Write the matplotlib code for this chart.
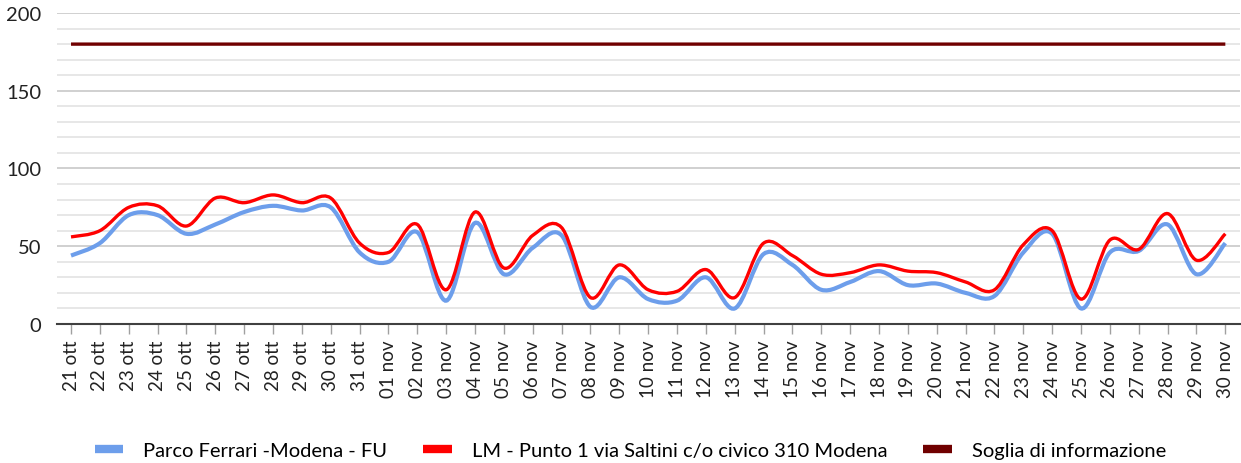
import matplotlib
matplotlib.use("Agg")
import matplotlib.pyplot as plt
from matplotlib.path import Path
from matplotlib.patches import PathPatch
from matplotlib.lines import Line2D

# date labels (21 ott - 30 nov)
giorni = ["21 ott", "22 ott", "23 ott", "24 ott", "25 ott", "26 ott", "27 ott",
          "28 ott", "29 ott", "30 ott", "31 ott", "01 nov", "02 nov", "03 nov",
          "04 nov", "05 nov", "06 nov", "07 nov", "08 nov", "09 nov", "10 nov",
          "11 nov", "12 nov", "13 nov", "14 nov", "15 nov", "16 nov", "17 nov",
          "18 nov", "19 nov", "20 nov", "21 nov", "22 nov", "23 nov", "24 nov",
          "25 nov", "26 nov", "27 nov", "28 nov", "29 nov", "30 nov"]

# Parco Ferrari - Modena - FU
parco_ferrari = [44, 52, 70, 70, 58, 64, 72, 76, 73, 75, 46, 40, 59, 15,
                 65, 32, 49, 57, 11, 30, 16, 15, 30, 10, 45, 38, 22, 27,
                 34, 25, 26, 20, 18, 46, 58, 10, 46, 47, 64, 32, 52]

# LM - Punto 1 via Saltini
punto_saltini = [56, 60, 75, 76, 63, 81, 78, 83, 78, 81, 52, 46, 64, 22,
                 72, 36, 57, 62, 17, 38, 22, 21, 35, 17, 52, 44, 32, 33,
                 38, 34, 33, 27, 22, 51, 60, 16, 54, 48, 71, 41, 58]

soglia = [180] * len(giorni)

labels = ["Parco Ferrari -Modena - FU",
          "LM - Punto 1 via Saltini c/o civico 310 Modena",
          "Soglia di informazione"]
colori = ["#6D9EEB", "#FF0000", "#700000"]


def smooth_path(xs, ys):
    """Curva liscia stile Excel (Catmull-Rom -> Bezier)."""
    n = len(xs)
    verts = [(xs[0], ys[0])]
    codes = [Path.MOVETO]
    for i in range(n - 1):
        x0, y0 = (xs[i - 1], ys[i - 1]) if i > 0 else (xs[i], ys[i])
        x1, y1 = xs[i], ys[i]
        x2, y2 = xs[i + 1], ys[i + 1]
        x3, y3 = (xs[i + 2], ys[i + 2]) if i + 2 < n else (x2, y2)
        c1 = (x1 + (x2 - x0) / 6, y1 + (y2 - y0) / 6)
        c2 = (x2 - (x3 - x1) / 6, y2 - (y3 - y1) / 6)
        verts += [c1, c2, (x2, y2)]
        codes += [Path.CURVE4] * 3
    return Path(verts, codes)


plt.rcParams['font.family'] = ['Lato', 'DejaVu Sans']

fig = plt.figure(figsize=(12.41, 4.64), dpi=100)
ax = fig.add_axes([0.0456, 0.2996, 0.9534, 0.6702])

x = list(range(len(giorni)))
serie = [parco_ferrari, punto_saltini, soglia]
larghezze = [3.0, 2.4, 2.4]
for ys, col, lw in zip(serie, colori, larghezze):
    patch = PathPatch(smooth_path(x, ys), facecolor="none", edgecolor=col,
                      lw=lw, capstyle="butt", zorder=3)
    ax.add_patch(patch)

ax.set_xlim(-0.5, len(giorni) - 0.5)
ax.set_ylim(0, 200)
ax.set_yticks(range(0, 201, 50))
ax.set_yticks(range(0, 201, 10), minor=True)
ax.grid(axis="y", which="minor", color="#E3E3E3", lw=1.2)
ax.grid(axis="y", which="major", color="#D0D0D0", lw=1.4)
ax.set_axisbelow(True)

ax.set_xticks(x)
ax.set_xticklabels(giorni, rotation=90, fontsize=13.5, color="#222222")
ax.tick_params(axis="x", length=7, width=1, color="#A0A0A0", pad=4)
ax.tick_params(axis="y", which="both", length=0, pad=11, labelsize=14.5,
               labelcolor="#222222")

for s in ["top", "right", "left"]:
    ax.spines[s].set_visible(False)
ax.spines["bottom"].set_color("#404040")
ax.spines["bottom"].set_linewidth(1.5)

handles = [Line2D([], [], color=c, lw=6, solid_capstyle="butt") for c in colori]
fig.legend(handles, labels, loc="lower center", bbox_to_anchor=(0.508, -0.03),
           ncol=3, frameon=False, fontsize=14.5, handlelength=1.4,
           columnspacing=1.8, handletextpad=1.0)

fig.savefig("out.png", dpi=100)
